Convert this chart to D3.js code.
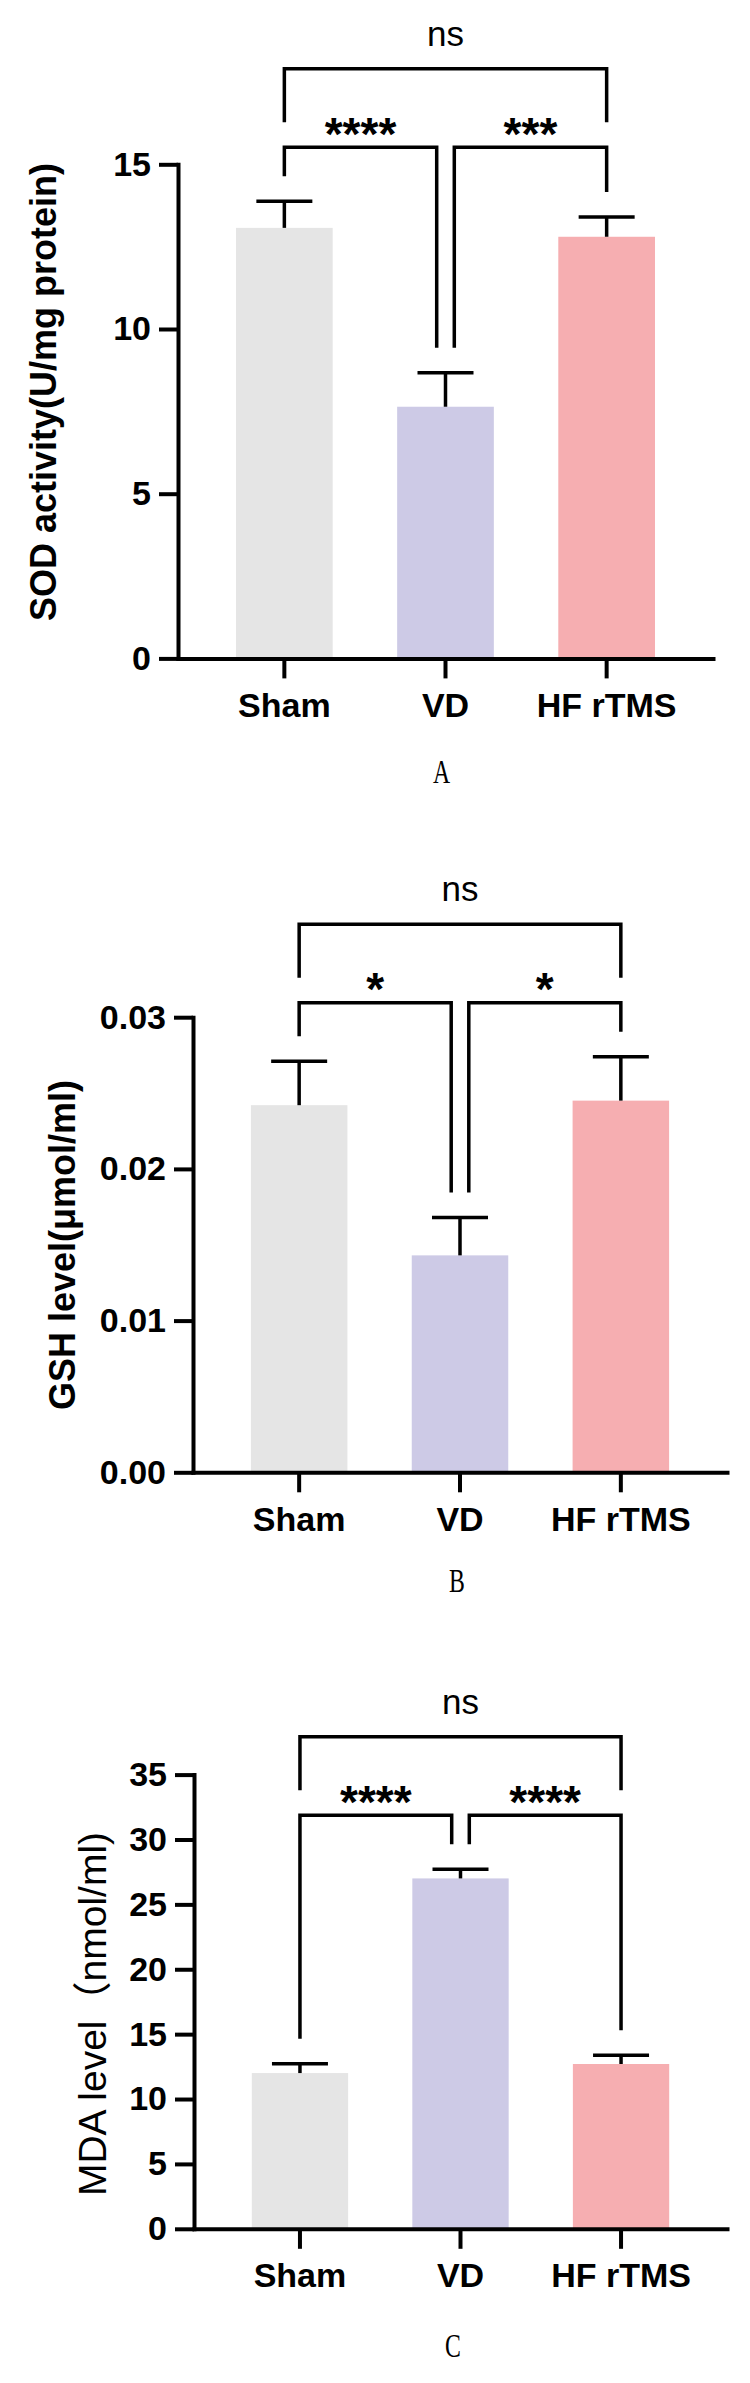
<!DOCTYPE html>
<html><head><meta charset="utf-8">
<script src="https://cdn.jsdelivr.net/npm/d3@7"></script>
<style>html,body{margin:0;padding:0;background:#fff;} svg{display:block;}</style>
</head><body>
<script>
// ---- data ----
const categories = ["Sham", "VD", "HF rTMS"];
const barColors = ["#e5e5e5", "#cdcae6", "#f6aeb1"];
const sodMean = [13.07, 7.64, 12.80];
const sodSD = [0.81, 1.03, 0.60];
const gshMean = [0.0242, 0.0143, 0.0245];
const gshSD = [0.0029, 0.0025, 0.0029];
const mdaMean = [12.0, 27.0, 12.7];
const mdaSD = [0.71, 0.71, 0.67];
const sodTicks = [0, 5, 10, 15];
const gshTicks = [0, 0.01, 0.02, 0.03];
const mdaTicks = [0, 5, 10, 15, 20, 25, 30, 35];
const sodSig = ["****", "***", "ns"];
const gshSig = ["*", "*", "ns"];
const mdaSig = ["****", "****", "ns"];
const titles = ["SOD activity(U/mg protein)", "GSH level(μmol/ml)", "MDA level（nmol/ml)"];
const panelLetters = ["A", "B", "C"];

// ---- layout ----
const W = 750, H = 2383;
const SANS = "'Liberation Sans', Arial, Helvetica, 'Noto Sans CJK SC', sans-serif";
const svg = d3.select("body").append("svg").attr("width", W).attr("height", H);
svg.append("rect").attr("width", W).attr("height", H).attr("fill", "#fff");

const panels = [
  {mean: sodMean, sd: sodSD, ticks: sodTicks, fmt: d3.format("d"), sig: sodSig, title: titles[0], letter: panelLetters[0],
   axisX: 178, xEnd: 713, y0: 658.4, yTop: 164.3, titleX: 56, titleY: 392, titleWeight: "bold", titleSize: 36, letterX: 441.5, letterY: 783},
  {mean: gshMean, sd: gshSD, ticks: gshTicks, fmt: d3.format(".2f"), sig: gshSig, title: titles[1], letter: panelLetters[1],
   axisX: 193, xEnd: 727, y0: 1472.3, yTop: 1017.2, titleX: 75, titleY: 1245, titleWeight: "bold", titleSize: 36, letterX: 457, letterY: 1592},
  {mean: mdaMean, sd: mdaSD, ticks: mdaTicks, fmt: d3.format("d"), sig: mdaSig, title: titles[2], letter: panelLetters[2],
   axisX: 194, xEnd: 727, y0: 2228.8, yTop: 1774.6, titleX: 106, titleY: 2014, titleWeight: "normal", titleSize: 39, letterX: 453, letterY: 2357}
];

panels.forEach(p => {
  const g = svg.append("g");
  const x = d3.scaleBand().domain(categories).range([p.axisX, p.xEnd]).paddingInner(0.4).paddingOuter(0.36);
  const y = d3.scaleLinear().domain([0, p.ticks[p.ticks.length - 1]]).range([p.y0, p.yTop]);
  const bw = x.bandwidth();
  const cx = c => x(c) + bw / 2;

  // bars
  g.selectAll("rect.bar").data(categories).join("rect").attr("class", "bar")
    .attr("x", d => x(d)).attr("width", bw)
    .attr("y", (d, i) => y(p.mean[i]))
    .attr("height", (d, i) => y(0) - y(p.mean[i]))
    .attr("fill", (d, i) => barColors[i]);

  // error bars (upper only)
  const eg = g.append("g").attr("stroke", "#000").attr("stroke-width", 3.5).attr("fill", "none");
  categories.forEach((c, i) => {
    const top = y(p.mean[i] + p.sd[i]);
    eg.append("line").attr("x1", cx(c)).attr("x2", cx(c)).attr("y1", y(p.mean[i])).attr("y2", top);
    eg.append("line").attr("x1", cx(c) - 28).attr("x2", cx(c) + 28).attr("y1", top).attr("y2", top);
  });

  // y axis
  const ya = g.append("g").attr("transform", `translate(${p.axisX},0)`)
    .call(d3.axisLeft(y).tickValues(p.ticks).tickFormat(p.fmt).tickSize(19).tickSizeOuter(0).tickPadding(8));
  // x axis
  const xa = g.append("g").attr("transform", `translate(0,${p.y0})`)
    .call(d3.axisBottom(x).tickSize(20).tickSizeOuter(0));
  [ya, xa].forEach(a => {
    a.select(".domain").attr("stroke", "#000").attr("stroke-width", 4).attr("stroke-linecap", "square");
    a.selectAll(".tick line").attr("stroke", "#000").attr("stroke-width", 4);
    a.selectAll("text").attr("fill", "#000").attr("font-family", SANS)
      .attr("font-size", 34).attr("font-weight", "bold");
  });
  xa.selectAll(".tick text").attr("y", 58.5).attr("dy", null);

  // y title
  g.append("text").attr("transform", `translate(${p.titleX},${p.titleY}) rotate(-90)`)
    .attr("text-anchor", "middle").attr("font-family", SANS).attr("font-size", p.titleSize)
    .attr("font-weight", p.titleWeight).attr("fill", "#000").text(p.title);

  // significance brackets
  const errTop = categories.map((c, i) => y(p.mean[i] + p.sd[i]));
  const lowY = d3.min(errTop) - 54;
  const nsY = lowY - 78.5;
  const legEnd = errTop.map(v => v - 25);
  const gap = 8.8;
  const c0 = cx(categories[0]), c1 = cx(categories[1]), c2 = cx(categories[2]);
  const bg = g.append("g").attr("stroke", "#000").attr("stroke-width", 3.5).attr("fill", "none").attr("stroke-linejoin", "miter");
  bg.append("path").attr("d", `M${c0},${legEnd[0]}V${lowY}H${c1 - gap}V${legEnd[1]}`);
  bg.append("path").attr("d", `M${c1 + gap},${legEnd[1]}V${lowY}H${c2}V${legEnd[2]}`);
  bg.append("path").attr("d", `M${c0},${nsY + 53.5}V${nsY}H${c2}V${nsY + 53.5}`);

  const starSize = 46;
  const starBase = lowY - 24 + 0.575 * starSize;
  g.append("text").attr("x", (c0 + c1 - gap) / 2).attr("y", starBase).attr("text-anchor", "middle")
    .attr("font-family", SANS).attr("font-size", starSize).attr("font-weight", "bold").text(p.sig[0]);
  g.append("text").attr("x", (c1 + gap + c2) / 2).attr("y", starBase).attr("text-anchor", "middle")
    .attr("font-family", SANS).attr("font-size", starSize).attr("font-weight", "bold").text(p.sig[1]);
  g.append("text").attr("x", (c0 + c2) / 2).attr("y", nsY - 23).attr("text-anchor", "middle")
    .attr("font-family", SANS).attr("font-size", 35).text(p.sig[2]);

  // panel letter
  g.append("text").attr("transform", `translate(${p.letterX},${p.letterY}) scale(0.72,1)`)
    .attr("text-anchor", "middle").attr("font-family", "'Liberation Serif', 'Times New Roman', serif")
    .attr("font-size", 33).attr("fill", "#000").text(p.letter);
});
</script>
</body></html>
